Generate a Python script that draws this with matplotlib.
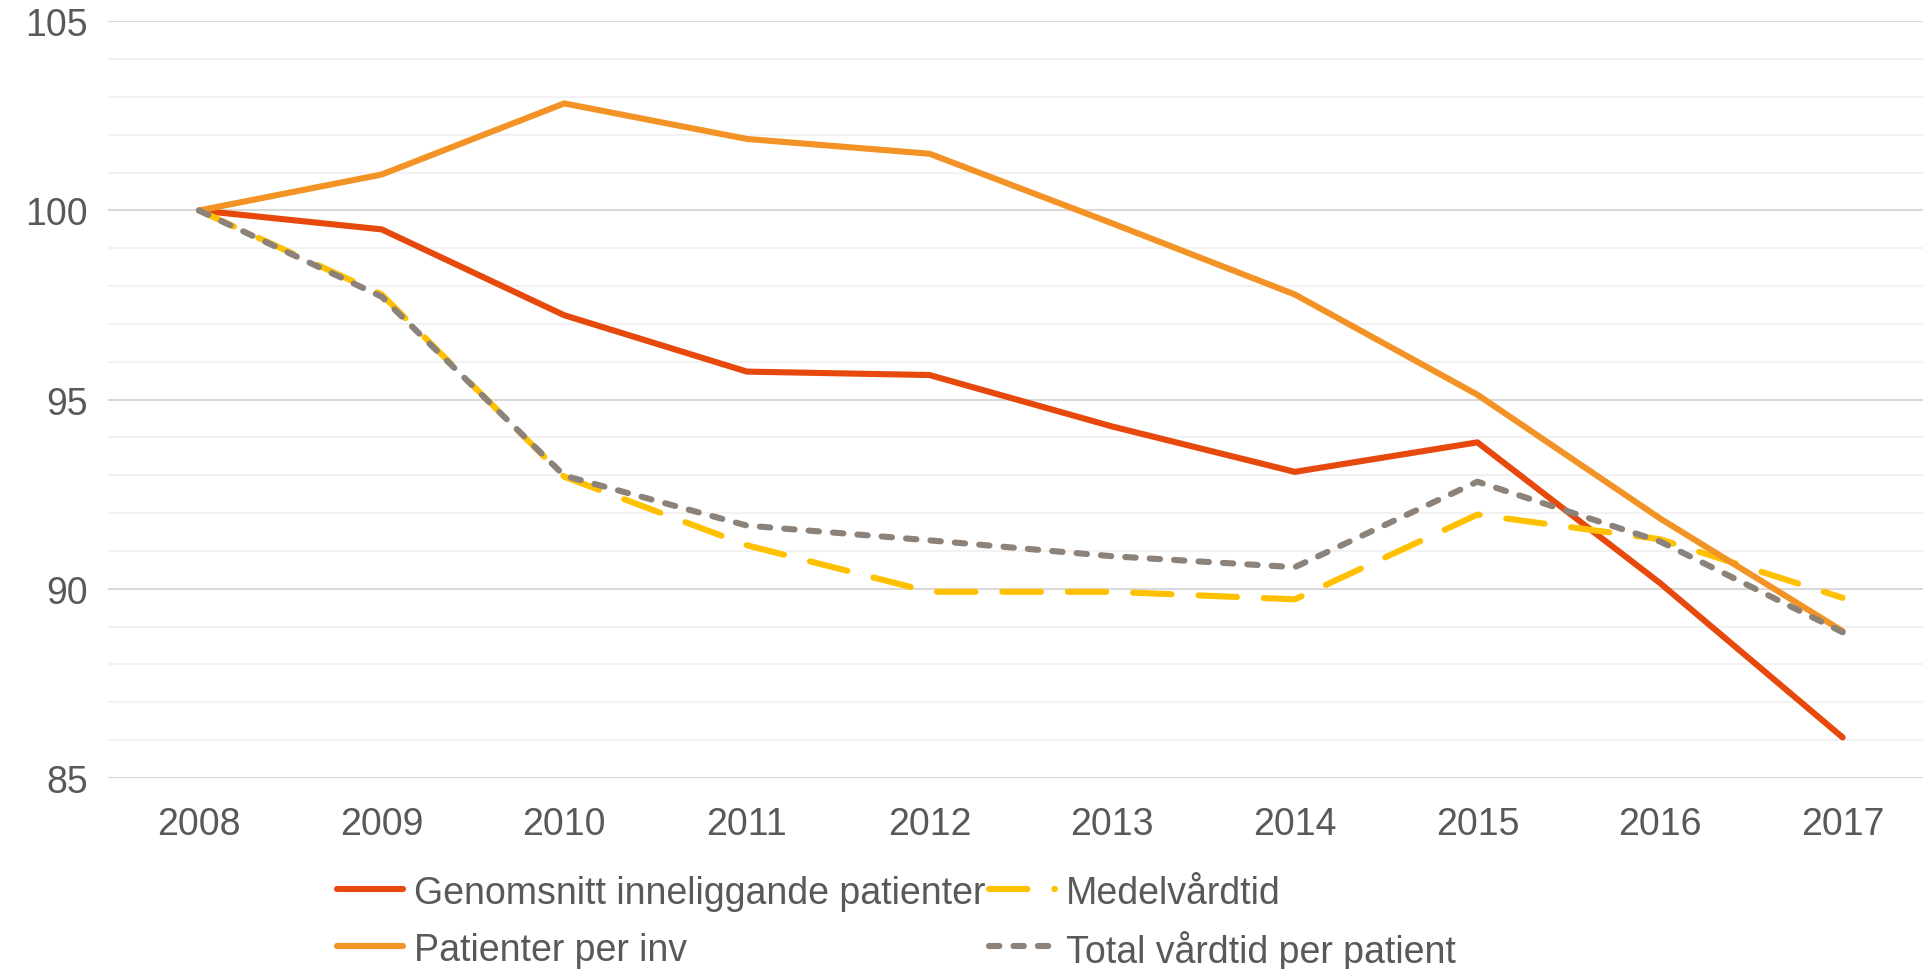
import matplotlib
matplotlib.use('Agg')
import matplotlib.pyplot as plt
from matplotlib.lines import Line2D
from matplotlib.ticker import MultipleLocator

plt.rcParams['font.family'] = ['Liberation Sans', 'DejaVu Sans']

years = ['2008', '2009', '2010', '2011', '2012', '2013', '2014', '2015', '2016', '2017']
genomsnitt = [100.0, 99.5, 97.23, 95.74, 95.65, 94.29, 93.09, 93.87, 90.15, 86.07]
medelvardtid = [100.0, 97.78, 92.96, 91.15, 89.92, 89.92, 89.72, 91.96, 91.31, 89.76]
patienter = [100.0, 100.95, 102.83, 101.89, 101.5, 99.66, 97.78, 95.13, 91.86, 88.88]
total = [100.0, 97.72, 92.99, 91.67, 91.28, 90.86, 90.57, 92.83, 91.25, 88.85]

txt = '#595959'
lw = 4.4
styles = {
    'Genomsnitt inneliggande patienter': dict(color='#E6490B', dashes=None, zorder=3),
    'Medelvårdtid': dict(color='#FFC000', dashes=(6.3, 4.4), zorder=4),
    'Patienter per inv': dict(color='#F39325', dashes=None, zorder=5),
    'Total vårdtid per patient': dict(color='#8C8279', dashes=(1.7, 2.3), zorder=6),
}
series = [('Genomsnitt inneliggande patienter', genomsnitt),
          ('Medelvårdtid', medelvardtid),
          ('Patienter per inv', patienter),
          ('Total vårdtid per patient', total)]

def line_kw(name):
    st = styles[name]
    kw = dict(color=st['color'], lw=lw, solid_capstyle='round', solid_joinstyle='round',
              dash_capstyle='round', zorder=st['zorder'])
    if st['dashes'] is not None:
        kw['dashes'] = st['dashes']
    return kw

fig = plt.figure(figsize=(19.23, 9.70), dpi=100)
ax = fig.add_axes([0.056, 0.197, 0.944, 0.78])

x = range(len(years))
for name, vals in series:
    ax.plot(x, vals, label=name, **line_kw(name))

ax.set_xlim(-0.5, 9.44)
ax.set_ylim(85, 105)
ax.set_xticks(list(x))
ax.set_xticklabels(years)
ax.yaxis.set_major_locator(MultipleLocator(5))
ax.yaxis.set_minor_locator(MultipleLocator(1))
ax.grid(True, which='major', axis='y', color='#D9D9D9', lw=1.5, zorder=0)
ax.grid(True, which='minor', axis='y', color='#F2F2F2', lw=1.5, zorder=0)
ax.tick_params(axis='both', which='both', length=0, labelsize=27, labelcolor=txt)
ax.tick_params(axis='y', pad=14)
ax.tick_params(axis='x', pad=20)
for s in ax.spines.values():
    s.set_visible(False)

# legend drawn by hand so the two columns share row heights (Excel style)
leg_rows = [('Genomsnitt inneliggande patienter', 0.1754, 0.0825),
            ('Medelvårdtid', 0.5145, 0.0825),
            ('Patienter per inv', 0.1754, 0.0237),
            ('Total vårdtid per patient', 0.5145, 0.0237)]
for name, lx, ly in leg_rows:
    fig.add_artist(Line2D([lx, lx + 0.034], [ly, ly], transform=fig.transFigure,
                          **line_kw(name)))
    fig.text(lx + 0.040, ly, name, fontsize=27, color=txt, va='center_baseline')

fig.savefig('out.png', dpi=100)
